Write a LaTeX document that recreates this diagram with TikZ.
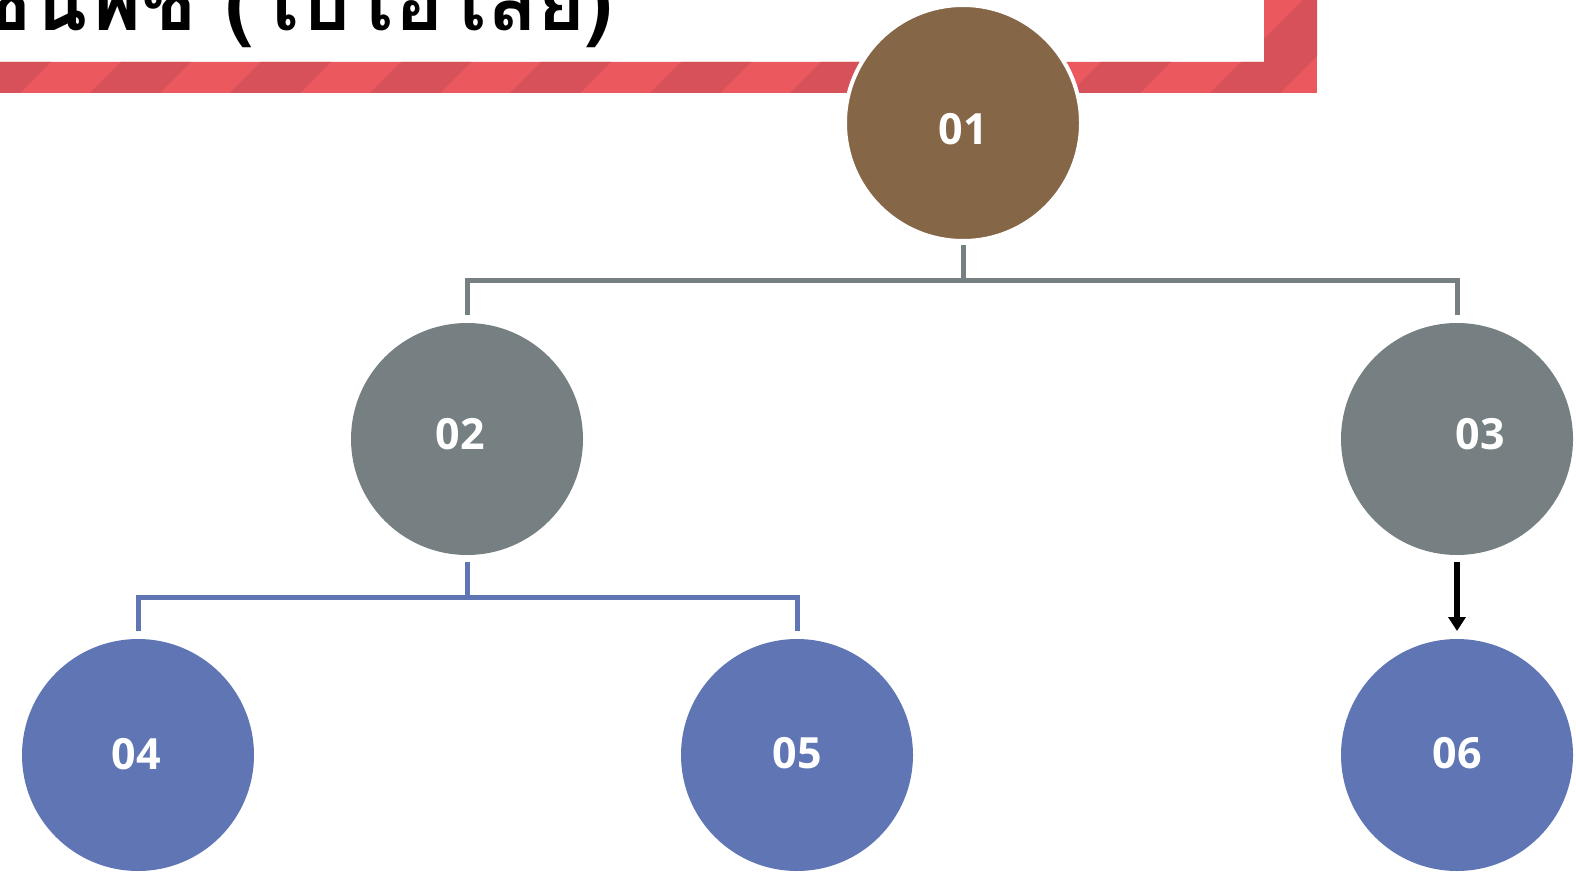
\documentclass[tikz,border=0pt]{standalone}
\usepackage{fontspec}
\usetikzlibrary{arrows.meta}
\newfontfamily\numfont{Open Sans}
\newfontfamily\thaifont[Script=Thai]{Loma}

\definecolor{brownc}{RGB}{133,103,72}
\definecolor{grayc}{RGB}{118,128,131}
\definecolor{bluec}{RGB}{96,118,180}
\definecolor{redl}{RGB}{235,88,94}
\definecolor{redd}{RGB}{214,81,90}

\begin{document}
\begin{tikzpicture}[x=1pt, y=-1pt,
    bubble/.style={circle, minimum size=232pt, inner sep=0pt, outer sep=0pt},
    num/.style={text=white, font=\numfont\bfseries\fontsize{43}{43}\selectfont},
    grayline/.style={draw=grayc, line width=5pt},
    blueline/.style={draw=bluec, line width=5pt}]
    \useasboundingbox (0,0) rectangle (1576,874);

    % title frame
    \begin{scope}
      \clip (-5,62) rectangle (1317,93) (1264,-5) rectangle (1317,93);
      \fill[redl] (-5,-5) rectangle (1317,93);
      \foreach \s in {-190,-50,...,1400}
        \fill[redd] (\s,93) -- ++(70,0) -- ++(100,-100) -- ++(-70,0) -- cycle;
    \end{scope}
    \node[anchor=base east, inner sep=0pt, font=\thaifont\bfseries\fontsize{82}{82}\selectfont] (ttl) at (613,31) {ลำดับชั้นพืช (ไบโอโลยี)};

    \node[bubble, minimum size=236pt, fill=brownc, draw=white, line width=4pt,
          label={[num, yshift=-6pt]center:01}] (c01) at (963,123) {};

    \node[bubble, fill=grayc, label={[num, xshift=-7pt, yshift=5pt]center:02}] (c02) at (467,439) {};
    \node[bubble, fill=grayc, label={[num, xshift=23pt, yshift=5pt]center:03}] (c03) at (1457,439) {};

    \node[bubble, fill=bluec, label={[num, xshift=-2pt, yshift=1pt]center:04}] (c04) at (138,755) {};
    \node[bubble, fill=bluec, label={[num, yshift=2pt]center:05}] (c05) at (797,755) {};
    \node[bubble, fill=bluec, label={[num, yshift=2pt]center:06}] (c06) at (1457,755) {};

    \coordinate (j1) at (963,281);
    \draw[grayline, shorten <=4pt] (c01) -- (j1);
    \draw[grayline, shorten >=8pt] (j1) -| (c02);
    \draw[grayline, shorten >=8pt] (j1) -| (c03);

    \coordinate (j2) at (467,597);
    \draw[blueline, shorten <=7pt] (c02) -- (j2);
    \draw[blueline, shorten >=8pt] (j2) -| (c04);
    \draw[blueline, shorten >=8pt] (j2) -| (c05);

    \draw[black, line width=6pt, -{Triangle[width=17pt, length=14pt]}, shorten <=7pt, shorten >=8pt] (c03) -- (c06);
\end{tikzpicture}
\end{document}
